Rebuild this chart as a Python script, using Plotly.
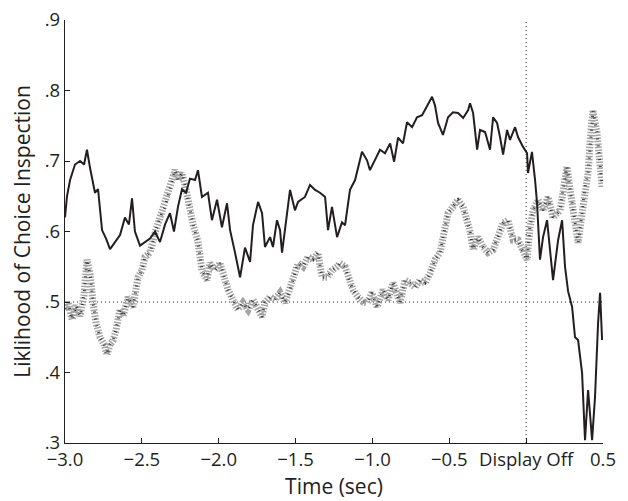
import plotly.graph_objects as go

# ---- data ----
solid_t = [-3.000, -2.987, -2.967, -2.935, -2.902, -2.876, -2.857, -2.837, -2.805, -2.785,
           -2.759, -2.733, -2.707, -2.675, -2.642, -2.610, -2.584, -2.564, -2.545, -2.512,
           -2.480, -2.447, -2.414, -2.382, -2.349, -2.317, -2.291, -2.265, -2.239, -2.213,
           -2.187, -2.154, -2.135, -2.109, -2.070, -2.044, -2.011, -1.979, -1.946, -1.926,
           -1.894, -1.861, -1.829, -1.796, -1.777, -1.744, -1.718, -1.699, -1.666, -1.647,
           -1.621, -1.601, -1.588, -1.569, -1.536, -1.504, -1.484, -1.439, -1.406, -1.373,
           -1.341, -1.308, -1.289, -1.263, -1.230, -1.198, -1.178, -1.146, -1.113, -1.068,
           -1.035, -1.016, -0.983, -0.951, -0.918, -0.885, -0.859, -0.833, -0.801, -0.775,
           -0.742, -0.710, -0.677, -0.645, -0.612, -0.593, -0.573, -0.541, -0.508, -0.476,
           -0.443, -0.410, -0.378, -0.365, -0.345, -0.319, -0.300, -0.267, -0.235, -0.215,
           -0.189, -0.170, -0.150, -0.124, -0.105, -0.072, -0.053, -0.020, 0.006, 0.012,
           0.038, 0.058, 0.071, 0.090, 0.110, 0.136, 0.156, 0.175, 0.208, 0.234,
           0.253, 0.273, 0.299, 0.318, 0.338, 0.364, 0.383, 0.403, 0.429, 0.448,
           0.468, 0.481, 0.494]
solid_v = [0.620, 0.650, 0.673, 0.695, 0.700, 0.695, 0.716, 0.690, 0.655, 0.660,
           0.602, 0.590, 0.575, 0.585, 0.595, 0.620, 0.610, 0.647, 0.600, 0.580,
           0.585, 0.590, 0.600, 0.585, 0.610, 0.626, 0.600, 0.635, 0.660, 0.655,
           0.675, 0.673, 0.687, 0.649, 0.655, 0.616, 0.645, 0.606, 0.640, 0.602,
           0.570, 0.535, 0.577, 0.557, 0.609, 0.642, 0.626, 0.578, 0.592, 0.578,
           0.616, 0.602, 0.570, 0.602, 0.659, 0.630, 0.642, 0.649, 0.666, 0.659,
           0.655, 0.649, 0.602, 0.635, 0.592, 0.613, 0.609, 0.659, 0.673, 0.713,
           0.701, 0.687, 0.701, 0.716, 0.711, 0.725, 0.699, 0.733, 0.725, 0.755,
           0.748, 0.762, 0.765, 0.777, 0.791, 0.779, 0.754, 0.737, 0.762, 0.769,
           0.768, 0.761, 0.772, 0.782, 0.768, 0.716, 0.744, 0.741, 0.716, 0.762,
           0.754, 0.734, 0.709, 0.744, 0.730, 0.748, 0.734, 0.720, 0.711, 0.683,
           0.713, 0.673, 0.640, 0.560, 0.592, 0.616, 0.570, 0.531, 0.588, 0.616,
           0.550, 0.515, 0.493, 0.450, 0.446, 0.399, 0.304, 0.375, 0.304, 0.365,
           0.470, 0.513, 0.446]

dotted_t = [-3.000, -2.980, -2.954, -2.928, -2.902, -2.876, -2.857, -2.837, -2.818, -2.798,
            -2.772, -2.746, -2.727, -2.707, -2.688, -2.668, -2.642, -2.623, -2.590, -2.558,
            -2.525, -2.499, -2.480, -2.447, -2.414, -2.382, -2.349, -2.317, -2.284, -2.265,
            -2.239, -2.213, -2.187, -2.167, -2.135, -2.109, -2.076, -2.057, -2.024, -1.992,
            -1.972, -1.939, -1.907, -1.874, -1.842, -1.809, -1.777, -1.744, -1.718, -1.699,
            -1.666, -1.634, -1.601, -1.569, -1.536, -1.504, -1.484, -1.452, -1.419, -1.386,
            -1.354, -1.328, -1.295, -1.263, -1.230, -1.211, -1.178, -1.159, -1.126, -1.094,
            -1.061, -1.035, -1.003, -0.970, -0.931, -0.898, -0.866, -0.820, -0.788, -0.755,
            -0.723, -0.690, -0.658, -0.625, -0.593, -0.560, -0.528, -0.508, -0.476, -0.443,
            -0.410, -0.385, -0.365, -0.345, -0.313, -0.280, -0.248, -0.215, -0.183, -0.150,
            -0.118, -0.085, -0.053, -0.020, 0.006, 0.025, 0.045, 0.077, 0.110, 0.143,
            0.175, 0.221, 0.240, 0.266, 0.286, 0.318, 0.338, 0.364, 0.383, 0.403,
            0.422, 0.435, 0.461, 0.481, 0.494]
dotted_v = [0.490, 0.500, 0.475, 0.495, 0.480, 0.510, 0.560, 0.540, 0.500, 0.470,
            0.450, 0.440, 0.425, 0.440, 0.445, 0.460, 0.490, 0.479, 0.507, 0.493,
            0.535, 0.545, 0.564, 0.570, 0.598, 0.620, 0.635, 0.659, 0.687, 0.673,
            0.683, 0.660, 0.630, 0.610, 0.586, 0.545, 0.531, 0.555, 0.545, 0.555,
            0.541, 0.517, 0.503, 0.489, 0.499, 0.489, 0.503, 0.489, 0.479, 0.499,
            0.507, 0.503, 0.513, 0.499, 0.517, 0.541, 0.555, 0.550, 0.564, 0.560,
            0.570, 0.535, 0.535, 0.545, 0.550, 0.555, 0.550, 0.535, 0.517, 0.507,
            0.500, 0.499, 0.513, 0.493, 0.517, 0.503, 0.527, 0.499, 0.531, 0.527,
            0.521, 0.531, 0.527, 0.541, 0.560, 0.570, 0.602, 0.626, 0.635, 0.645,
            0.635, 0.615, 0.600, 0.574, 0.592, 0.578, 0.570, 0.574, 0.592, 0.612,
            0.616, 0.588, 0.588, 0.570, 0.560, 0.606, 0.630, 0.645, 0.630, 0.649,
            0.620, 0.630, 0.659, 0.692, 0.659, 0.612, 0.584, 0.626, 0.663, 0.683,
            0.744, 0.772, 0.740, 0.697, 0.663]

x_tickvals = [-3.0, -2.5, -2.0, -1.5, -1.0, -0.5, 0.0, 0.5]
x_ticktext = ["\u22123.0", "\u22122.5", "\u22122.0", "\u22121.5", "\u22121.0", "\u22120.5",
              "Display Off", "0.5"]
y_tickvals = [0.3, 0.4, 0.5, 0.6, 0.7, 0.8, 0.9]
y_ticktext = [".3", ".4", ".5", ".6", ".7", ".8", ".9"]
ref_level = 0.5
display_off = 0.0

ink = "#231f20"
font_family = "Open Sans, Noto Sans, sans-serif"

fig = go.Figure()

# reference lines
fig.add_trace(go.Scatter(x=[x_tickvals[0], x_tickvals[-1]], y=[ref_level, ref_level],
                         mode="lines", line=dict(color=ink, width=1, dash="1px,3px"),
                         hoverinfo="skip", showlegend=False))
fig.add_trace(go.Scatter(x=[display_off, display_off], y=[y_tickvals[0], y_tickvals[-1]],
                         mode="lines", line=dict(color=ink, width=1, dash="1px,3px"),
                         hoverinfo="skip", showlegend=False))

# dotted (grey hatched) series
fig.add_trace(go.Scatter(x=dotted_t, y=dotted_v, mode="lines",
                         line=dict(color="#a3a3a3", width=7, dash="1.5px,1.5px"),
                         showlegend=False))
fig.add_trace(go.Scatter(x=dotted_t, y=dotted_v, mode="lines",
                         line=dict(color="#333333", width=3, dash="1px,6px"),
                         showlegend=False))

# solid series
fig.add_trace(go.Scatter(x=solid_t, y=solid_v, mode="lines",
                         line=dict(color=ink, width=2), showlegend=False))

# the page adds an 8px body margin, so the figure is sized to fit inside the window
fig.update_layout(
    width=620, height=493,
    margin=dict(l=57, r=25, t=12, b=58),
    paper_bgcolor="white", plot_bgcolor="white",
    font=dict(family=font_family, size=18, color=ink),
)
fig.update_xaxes(
    range=[-3.0, 0.5], tickvals=x_tickvals, ticktext=x_ticktext,
    showgrid=False, zeroline=False, showline=True, linecolor=ink, linewidth=1.3,
    ticks="inside", ticklen=5, tickcolor=ink, tickwidth=1.3, automargin=False,
    ticklabeloverflow="allow",
    tickfont=dict(size=18.5, color=ink),
    title=dict(text="Time (sec)", font=dict(size=21, color=ink), standoff=8),
)
fig.update_yaxes(
    range=[0.3, 0.9], tickvals=y_tickvals, ticktext=y_ticktext,
    showgrid=False, zeroline=False, showline=True, linecolor=ink, linewidth=1.3,
    ticks="inside", ticklen=5, tickcolor=ink, tickwidth=1.3, automargin=False,
    ticklabeloverflow="allow",
    tickfont=dict(size=18.5, color=ink),
    title=dict(text="Liklihood of Choice Inspection", font=dict(size=21, color=ink), standoff=11),
)

fig.write_html("out.html")
